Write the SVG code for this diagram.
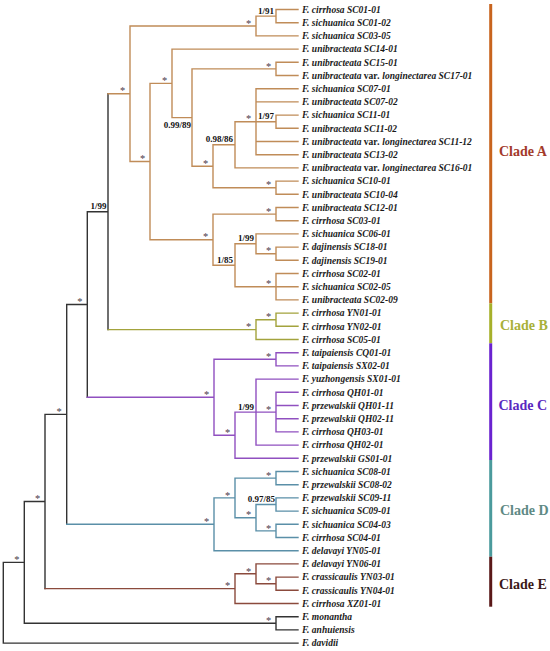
<svg xmlns="http://www.w3.org/2000/svg" width="550" height="651" viewBox="0 0 550 651">
<style>
.br{fill:none;stroke-width:1.4;stroke-linecap:square}
.k{stroke:#333333}.a{stroke:#c08c58}.b{stroke:#a3a33d}.c{stroke:#9050c0}.d{stroke:#5a8fa8}.e{stroke:#8b4a3c}
.lf{font-family:"Liberation Serif","Times New Roman",serif;font-size:9.5px;font-weight:bold;font-style:italic;fill:#1a1a1a}
.v{font-style:normal}
.s{font-family:"Liberation Serif",serif;font-size:10.5px;fill:#4a3a4a;text-anchor:middle}
.sp{font-family:"Liberation Serif",serif;font-size:9px;font-weight:bold;fill:#111;text-anchor:end}
.cl{font-family:"Liberation Serif",serif;font-size:14px;font-weight:bold}
.bar{stroke-width:3;fill:none}
</style>
<rect width="550" height="651" fill="#ffffff"/>
<g id="connectors">
<path class="br k" d="M3.3 562.4V643.1M3.3 562.4H24.3M3.3 643.1H298M24.3 501.5V623.3M24.3 501.5H45M24.3 623.3H276M276 616.7V629.9M276 616.7H298M276 629.9H298M45 414.4V588.65M45 414.4H66.7M66.7 304.5V524.3M66.7 304.5H87.3M87.3 211.7V397.25M87.3 211.7H108M108 93.75V329.6"/>
<path class="br a" d="M108 93.75H130M130 26V161.5M130 26H256M256 16.1V35.9M256 16.1H276M276 9.5V22.7M276 9.5H298M276 22.7H298M256 35.9H298M130 161.5H150M150 83.35V239.7M150 83.35H172M172 49.1V117.6M172 49.1H298M172 117.6H192M192 68.9V166.25M192 68.9H276M276 62.3V75.5M276 62.3H298M276 75.5H298M192 166.25H213M213 144.8V187.7M213 144.8H235M235 121.7V167.9M235 121.7H256M235 167.9H298M256 88.7V154.7M256 88.7H298M256 101.9H298M256 121.7H276M276 115.1V128.3M276 115.1H298M276 128.3H298M256 141.5H298M256 154.7H298M213 187.7H276M276 181.1V194.3M276 181.1H298M276 194.3H298M150 239.7H213M213 214.1V265.25M213 214.1H276M276 207.5V220.7M276 207.5H298M276 220.7H298M213 265.25H235M235 243.8V286.7M235 243.8H256M256 233.9V253.7M256 233.9H298M256 253.7H276M276 247.1V260.3M276 247.1H298M276 260.3H298M235 286.7H276M276 273.5V299.9M276 273.5H298M276 286.7H298M276 299.9H298"/>
<path class="br b" d="M108 329.6H256M256 319.7V339.5M256 319.7H276M276 313.1V326.3M276 313.1H298M276 326.3H298M256 339.5H298"/>
<path class="br c" d="M87.3 397.25H214M214 359.3V435.2M214 359.3H276M276 352.7V365.9M276 352.7H298M276 365.9H298M214 435.2H235M235 412.1V458.3M235 412.1H256M235 458.3H298M256 379.1V445.1M256 379.1H298M256 412.1H276M276 392.3V431.9M276 392.3H298M276 405.5H298M276 418.7H298M276 431.9H298M256 445.1H298"/>
<path class="br d" d="M66.7 524.3H214M214 497.9V550.7M214 497.9H235M214 550.7H298M235 478.1V517.7M235 478.1H276M276 471.5V484.7M276 471.5H298M276 484.7H298M235 517.7H256M256 504.5V530.9M256 504.5H276M276 497.9V511.1M276 497.9H298M276 511.1H298M256 530.9H276M276 524.3V537.5M276 524.3H298M276 537.5H298"/>
<path class="br e" d="M45 588.65H235M235 573.8V603.5M235 573.8H256M235 603.5H298M256 563.9V583.7M256 563.9H298M256 583.7H276M276 577.1V590.3M276 577.1H298M276 590.3H298"/>
</g>
<g id="support">
<text class="s" x="248.5" y="26.7">*</text>
<text class="s" x="122.5" y="94.4">*</text>
<text class="s" x="142.5" y="162.2">*</text>
<text class="s" x="164.5" y="84">*</text>
<text class="s" x="268.5" y="69.6">*</text>
<text class="s" x="205.5" y="167">*</text>
<text class="s" x="248.5" y="122.4">*</text>
<text class="s" x="268.5" y="188.4">*</text>
<text class="s" x="205.5" y="240.4">*</text>
<text class="s" x="268.5" y="214.8">*</text>
<text class="s" x="268.5" y="254.4">*</text>
<text class="s" x="268.5" y="287.4">*</text>
<text class="s" x="248.5" y="330.3">*</text>
<text class="s" x="268.5" y="320.4">*</text>
<text class="s" x="79.8" y="305.2">*</text>
<text class="s" x="206.5" y="398">*</text>
<text class="s" x="268.5" y="360">*</text>
<text class="s" x="227.5" y="435.9">*</text>
<text class="s" x="268.5" y="412.8">*</text>
<text class="s" x="59.2" y="415.1">*</text>
<text class="s" x="206.5" y="525">*</text>
<text class="s" x="227.5" y="498.6">*</text>
<text class="s" x="268.5" y="478.8">*</text>
<text class="s" x="248.5" y="518.4">*</text>
<text class="s" x="268.5" y="531.6">*</text>
<text class="s" x="37.5" y="502.2">*</text>
<text class="s" x="227.5" y="589.4">*</text>
<text class="s" x="248.5" y="574.5">*</text>
<text class="s" x="268.5" y="584.4">*</text>
<text class="s" x="16.8" y="563.1">*</text>
<text class="s" x="268.5" y="624">*</text>
<text class="sp" x="274" y="13.6">1/91</text>
<text class="sp" x="274" y="119.2">1/97</text>
<text class="sp" x="233" y="142">0.98/86</text>
<text class="sp" x="191" y="127.5">0.99/89</text>
<text class="sp" x="254" y="241.3">1/99</text>
<text class="sp" x="233" y="262.7">1/85</text>
<text class="sp" x="106.5" y="209.2">1/99</text>
<text class="sp" x="254" y="409.6">1/99</text>
<text class="sp" x="275" y="502">0.97/85</text>
</g>
<g id="leaves">
<g id="n01"><text class="lf" x="302" y="12.8">F. cirrhosa SC01-01</text></g>
<g id="n02"><text class="lf" x="302" y="26">F. sichuanica SC01-02</text></g>
<g id="n03"><text class="lf" x="302" y="39.2">F. sichuanica SC03-05</text></g>
<g id="n04"><text class="lf" x="302" y="52.4">F. unibracteata SC14-01</text></g>
<g id="n05"><text class="lf" x="302" y="65.6">F. unibracteata SC15-01</text></g>
<g id="n06"><text class="lf" x="302" y="78.8">F. unibracteata <tspan class="v">var</tspan>. longinectarea SC17-01</text></g>
<g id="n07"><text class="lf" x="302" y="92">F. sichuanica SC07-01</text></g>
<g id="n08"><text class="lf" x="302" y="105.2">F. unibracteata SC07-02</text></g>
<g id="n09"><text class="lf" x="302" y="118.4">F. sichuanica SC11-01</text></g>
<g id="n10"><text class="lf" x="302" y="131.6">F. unibracteata SC11-02</text></g>
<g id="n11"><text class="lf" x="302" y="144.8">F. unibracteata <tspan class="v">var</tspan>. longinectarea SC11-12</text></g>
<g id="n12"><text class="lf" x="302" y="158">F. unibracteata SC13-02</text></g>
<g id="n13"><text class="lf" x="302" y="171.2">F. unibracteata <tspan class="v">var</tspan>. longinectarea SC16-01</text></g>
<g id="n14"><text class="lf" x="302" y="184.4">F. sichuanica SC10-01</text></g>
<g id="n15"><text class="lf" x="302" y="197.6">F. unibracteata SC10-04</text></g>
<g id="n16"><text class="lf" x="302" y="210.8">F. unibracteata SC12-01</text></g>
<g id="n17"><text class="lf" x="302" y="224">F. cirrhosa SC03-01</text></g>
<g id="n18"><text class="lf" x="302" y="237.2">F. sichuanica SC06-01</text></g>
<g id="n19"><text class="lf" x="302" y="250.4">F. dajinensis SC18-01</text></g>
<g id="n20"><text class="lf" x="302" y="263.6">F. dajinensis SC19-01</text></g>
<g id="n21"><text class="lf" x="302" y="276.8">F. cirrhosa SC02-01</text></g>
<g id="n22"><text class="lf" x="302" y="290">F. sichuanica SC02-05</text></g>
<g id="n23"><text class="lf" x="302" y="303.2">F. unibracteata SC02-09</text></g>
<g id="n24"><text class="lf" x="302" y="316.4">F. cirrhosa YN01-01</text></g>
<g id="n25"><text class="lf" x="302" y="329.6">F. cirrhosa YN02-01</text></g>
<g id="n26"><text class="lf" x="302" y="342.8">F. cirrhosa SC05-01</text></g>
<g id="n27"><text class="lf" x="302" y="356">F. taipaiensis CQ01-01</text></g>
<g id="n28"><text class="lf" x="302" y="369.2">F. taipaiensis SX02-01</text></g>
<g id="n29"><text class="lf" x="302" y="382.4">F. yuzhongensis SX01-01</text></g>
<g id="n30"><text class="lf" x="302" y="395.6">F. cirrhosa QH01-01</text></g>
<g id="n31"><text class="lf" x="302" y="408.8">F. przewalskii QH01-11</text></g>
<g id="n32"><text class="lf" x="302" y="422">F. przewalskii QH02-11</text></g>
<g id="n33"><text class="lf" x="302" y="435.2">F. cirrhosa QH03-01</text></g>
<g id="n34"><text class="lf" x="302" y="448.4">F. cirrhosa QH02-01</text></g>
<g id="n35"><text class="lf" x="302" y="461.6">F. przewalskii GS01-01</text></g>
<g id="n36"><text class="lf" x="302" y="474.8">F. sichuanica SC08-01</text></g>
<g id="n37"><text class="lf" x="302" y="488">F. przewalskii SC08-02</text></g>
<g id="n38"><text class="lf" x="302" y="501.2">F. przewalskii SC09-11</text></g>
<g id="n39"><text class="lf" x="302" y="514.4">F. sichuanica SC09-01</text></g>
<g id="n40"><text class="lf" x="302" y="527.6">F. sichuanica SC04-03</text></g>
<g id="n41"><text class="lf" x="302" y="540.8">F. cirrhosa SC04-01</text></g>
<g id="n42"><text class="lf" x="302" y="554">F. delavayi YN05-01</text></g>
<g id="n43"><text class="lf" x="302" y="567.2">F. delavayi YN06-01</text></g>
<g id="n44"><text class="lf" x="302" y="580.4">F. crassicaulis YN03-01</text></g>
<g id="n45"><text class="lf" x="302" y="593.6">F. crassicaulis YN04-01</text></g>
<g id="n46"><text class="lf" x="302" y="606.8">F. cirrhosa XZ01-01</text></g>
<g id="n47"><text class="lf" x="302" y="620">F. monantha</text></g>
<g id="n48"><text class="lf" x="302" y="633.2">F. anhuiensis</text></g>
<g id="n49"><text class="lf" x="302" y="646.4">F. davidii</text></g>
</g>
<g id="clades">
<g id="cladeA"><line class="bar" x1="490.7" y1="4" x2="490.7" y2="303.3" stroke="#c8641e"/><text class="cl" x="499" y="156" fill="#a33a2a">Clade A</text></g>
<g id="cladeB"><line class="bar" x1="490.7" y1="303.3" x2="490.7" y2="343.3" stroke="#a6b02a"/><text class="cl" x="500" y="329.6" fill="#a8b038">Clade B</text></g>
<g id="cladeC"><line class="bar" x1="490.7" y1="343.3" x2="490.7" y2="460" stroke="#6a22d0"/><text class="cl" x="498.5" y="409.6" fill="#5a28c0">Clade C</text></g>
<g id="cladeD"><line class="bar" x1="490.7" y1="460" x2="490.7" y2="556.7" stroke="#4a9a9c"/><text class="cl" x="500" y="515.3" fill="#5f8a85">Clade D</text></g>
<g id="cladeE"><line class="bar" x1="490.7" y1="556.7" x2="490.7" y2="606.7" stroke="#5a1818"/><text class="cl" x="499" y="588.6" fill="#3a1818">Clade E</text></g>
</g>
</svg>
